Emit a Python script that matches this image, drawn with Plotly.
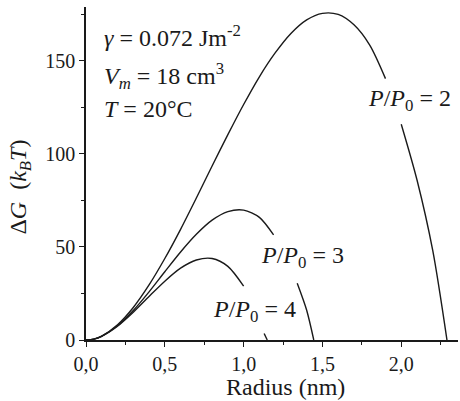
import plotly.graph_objects as go

# Data (ΔG in kBT vs radius in nm); None = gap for label
r_s2 = [0, 0.05, 0.1, 0.2, 0.3, 0.4, 0.5, 0.6, 0.7, 0.8, 0.9, 1.0, 1.1, 1.2, 1.3, 1.4, 1.5, 1.6, 1.7, 1.8, 1.9, 1.95, 2.0, 2.1, 2.2, 2.29]
g_s2 = [0, 0.5, 2.1, 8.2, 17.5, 29.6, 43.8, 59.5, 76.3, 93.5, 110.4, 126.6, 141.5, 154.3, 164.8, 172.1, 175.6, 175.0, 169.4, 158.5, 140.5, None, 116, 86, 48, 0]

r_s3 = [0, 0.05, 0.1, 0.2, 0.3, 0.4, 0.5, 0.6, 0.7, 0.8, 0.9, 1.0, 1.1, 1.19, 1.27, 1.34, 1.4, 1.445]
g_s3 = [0, 0.5, 2.1, 7.7, 15.9, 25.9, 36.7, 47.3, 56.8, 64.4, 69.0, 69.8, 65.9, 56.5, None, 30.5, 16, 0]

r_s4 = [0, 0.05, 0.1, 0.2, 0.3, 0.4, 0.5, 0.6, 0.7, 0.8, 0.9, 1.0, 1.07, 1.13, 1.15]
g_s4 = [0, 0.5, 2.0, 7.4, 14.9, 23.4, 31.6, 38.6, 43.0, 43.8, 39.6, 29.0, None, 3.5, 0]

x_tickvals = [0, 0.5, 1.0, 1.5, 2.0]
x_ticktext = ["0,0", "0,5", "1,0", "1,5", "2,0"]
y_tickvals = [0, 50, 100, 150]

FONT = "Liberation Serif"
LC = "#1a1a1a"

fig = go.Figure()
for rr, gg in [(r_s2, g_s2), (r_s3, g_s3), (r_s4, g_s4)]:
    fig.add_trace(go.Scatter(x=rr, y=gg, mode="lines", connectgaps=False,
                             line=dict(color=LC, width=1.4, shape="spline", smoothing=0.8),
                             showlegend=False, hoverinfo="skip"))

ann = []
def txt(x, y, s, xref="x", yref="y", size=24, **kw):
    d = dict(x=x, y=y, xref=xref, yref=yref, text=s, showarrow=False,
             font=dict(family=FONT, size=size, color=LC), xanchor="left", yanchor="middle")
    d.update(kw)
    ann.append(d)

txt(0.10, 163.5, "<i>γ</i> = 0.072 Jm<sup>-2</sup>")
txt(0.10, 142, "<i>V</i><sub><i>m</i></sub> = 18 cm<sup>3</sup>")
txt(0.10, 124, "<i>T</i> = 20°C")
txt(1.775, 129, "<i>P</i>/<i>P</i><sub>0</sub> = 2")
txt(1.097, 44.6, "<i>P</i>/<i>P</i><sub>0</sub> = 3")
txt(0.795, 15.5, "<i>P</i>/<i>P</i><sub>0</sub> = 4")
txt(-0.178, 0.46, "Δ<i>G</i>  (<i>k</i><sub><i>B</i></sub><i>T</i>)", xref="paper", yref="paper",
    xanchor="center", textangle=-90)
txt(0.537, -0.142, "Radius (nm)", xref="paper", yref="paper", xanchor="center")

fig.update_layout(
    width=460, height=401,
    margin=dict(l=86, r=2, t=7, b=61),
    paper_bgcolor="white", plot_bgcolor="white",
    font=dict(family=FONT, size=20, color=LC),
    annotations=ann,
    xaxis=dict(range=[0, 2.36], tickvals=x_tickvals, ticktext=x_ticktext,
               showline=True, linecolor=LC, linewidth=1.5, showgrid=False, zeroline=False,
               ticks="outside", ticklen=5, tickwidth=1.3, tickcolor=LC,
               minor=dict(dtick=0.25, tick0=0, ticks="outside", ticklen=3, tickcolor=LC, tickwidth=1.1),
               tickfont=dict(family=FONT, size=20, color=LC)),
    yaxis=dict(range=[0, 179], tickvals=y_tickvals,
               showline=True, linecolor=LC, linewidth=1.5, showgrid=False, zeroline=False,
               ticks="outside", ticklen=5, tickwidth=1.3, tickcolor=LC,
               minor=dict(dtick=25, tick0=0, ticks="outside", ticklen=3, tickcolor=LC, tickwidth=1.1),
               tickfont=dict(family=FONT, size=20, color=LC)),
)

fig.write_html("out.html", config={"displayModeBar": False},
               post_script="document.body.style.margin='0px';")
